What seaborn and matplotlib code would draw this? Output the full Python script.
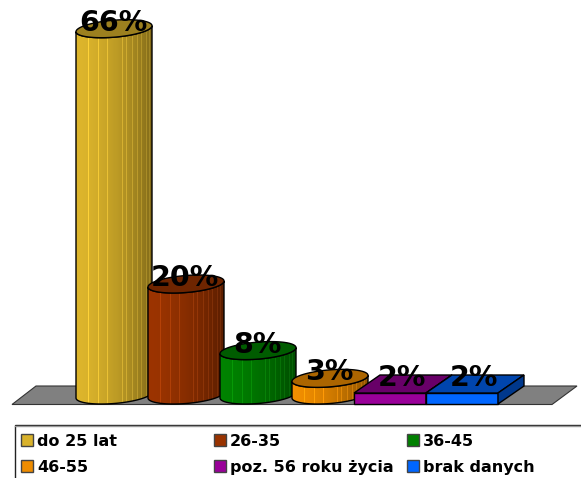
import numpy as np
import pandas as pd
import matplotlib
matplotlib.use("Agg")
import matplotlib.pyplot as plt
from matplotlib.patches import Polygon, Rectangle
from matplotlib.colors import to_rgb
import seaborn as sns

kategorie = ["do 25 lat", "26-35", "36-45", "46-55", "poz. 56 roku życia", "brak danych"]
wartosci = [66, 20, 8, 3, 2, 2]
kolory = ["#D9B22B", "#993300", "#008000", "#EE8C00", "#990099", "#0066FF"]
etykiety = ["66%", "20%", "8%", "3%", "2%", "2%"]

W, H = 581, 478
PX_X = 72.0     # pixels per category
PX_Y = 5.55     # pixels per percent
X0, Y0 = 114, 395


def px(x, y):
    return (x - X0) / PX_X, (Y0 - y) / PX_Y


sns.set_style("white")
plt.rcParams["font.family"] = ["DejaVu Sans"]
plt.rcParams["text.color"] = "black"
fig = plt.figure(figsize=(W / 100, H / 100), dpi=100)
ax = fig.add_axes([0, 0, 1, 1])

df = pd.DataFrame({"kat": kategorie, "val": wartosci})
sns.barplot(data=df, x="kat", y="val", hue="kat", palette=kolory, width=1.0,
            order=kategorie, hue_order=kategorie, legend=False, ax=ax,
            saturation=1, edgecolor="black", linewidth=1)

ax.set_xlim(px(0, 0)[0], px(W, 0)[0])
ax.set_ylim(px(0, H)[1], px(0, 0)[1])
ax.axis("off")

# floor
floor = [px(12, 404.5), px(36, 386), px(577, 386), px(552, 404.5)]
ax.add_patch(Polygon(floor, closed=True, fc="#808080", ec="#333333", lw=0.8, zorder=1))

A_PX = 38.0
B_PX = 8.5
S_PX = 3.0
t = np.linspace(0, 2 * np.pi, 121)


def ellipse(cx, cy_val, tt):
    xs = cx + (A_PX / PX_X) * np.cos(tt)
    ys = cy_val + (B_PX * np.sin(tt) + S_PX * np.cos(tt)) / PX_Y
    return np.column_stack([xs, ys])


def shade(col, f):
    return tuple(c * f for c in to_rgb(col))


handles = []
for i, cont in enumerate(ax.containers):
    bar = cont.patches[0]
    cx = bar.get_x() + bar.get_width() / 2
    v = bar.get_height()
    col = kolory[i]
    z = 3 + i
    handles.append(Rectangle((0, 0), 1, 1, fc=col, ec="#444444", lw=1))
    if i < 4:
        bar.set_visible(False)
        # side of the cylinder: front half of bottom + front half of top
        low = ellipse(cx, 0, np.linspace(np.pi, 2 * np.pi, 60))
        up = ellipse(cx, v, np.linspace(2 * np.pi, np.pi, 60))
        side = np.vstack([low, up])
        n = 76
        frac = np.linspace(0, 1, n)
        f = 1.02 - 0.42 * frac ** 1.6
        img = np.array([shade(col, x) for x in f])
        # thin light ribs
        for r in [0.16, 0.3, 0.42, 0.6, 0.66, 0.74, 0.8, 0.86, 0.92, 0.96]:
            j = int(r * (n - 1))
            img[j] = np.clip(img[j] * 1.14 + 0.03, 0, 1)
        img = np.clip(img, 0, 1)
        x_left, x_right = cx - A_PX / PX_X, cx + A_PX / PX_X
        ymin, ymax = side[:, 1].min(), side[:, 1].max()
        im = ax.imshow(img[np.newaxis, :, :], extent=[x_left, x_right, ymin, ymax],
                       aspect="auto", zorder=z, interpolation="nearest")
        im.set_clip_path(Polygon(side, closed=True, transform=ax.transData))
        ax.add_patch(Polygon(side, closed=True, fc="none", ec="black", lw=1, zorder=z))
        ax.add_patch(Polygon(ellipse(cx, v, t), closed=True, fc=shade(col, 0.72),
                             ec="black", lw=1, zorder=z + 0.1))
        label_y = v + 6 / PX_Y
        label_x = cx - 1 / PX_X
    else:
        # box: front face is the bar, pushed left; top and side are offset by depth
        dx = 26 / PX_X
        dy = 18 / PX_Y
        bar.set_x(cx - 0.5 - 12 / PX_X)
        x1 = bar.get_x()
        x2 = x1 + 1.0
        bot = px(0, 404)[1]
        top = bot + 11 / PX_Y
        bar.set_y(bot)
        bar.set_height(top - bot)
        bar.set_zorder(z)
        ax.add_patch(Polygon([(x1, top), (x1 + dx, top + dy), (x2 + dx, top + dy), (x2, top)],
                             closed=True, fc=shade(col, 0.68), ec="black", lw=1, zorder=z))
        ax.add_patch(Polygon([(x2, bot), (x2 + dx, bot + dy), (x2 + dx, top + dy), (x2, top)],
                             closed=True, fc=shade(col, 0.55), ec="black", lw=1, zorder=z))
        label_y = top + 9 / PX_Y + 6 / PX_Y
        label_x = cx
    ax.text(label_x, label_y, etykiety[i], ha="center", va="center", fontsize=20.5,
            fontweight="bold", color="black", zorder=20)

# legend frame runs off the right and bottom edges
lx, ly = px(15, 425)
rx, by = px(W + 10, H + 10)
ax.add_patch(Rectangle((lx, by), rx - lx, ly - by, fc="white", ec="#222222", lw=1, zorder=15))
ax.plot([lx, rx], [px(0, 426)[1]] * 2, color="#999999", lw=1, zorder=16)

kolumny = [(0, 3), (1, 4), (2, 5)]
for nr, ((a, b), x_px) in enumerate(zip(kolumny, [12, 205, 398])):
    leg = ax.legend([handles[a], handles[b]], [kategorie[a], kategorie[b]],
                    loc="upper left", bbox_to_anchor=px(x_px, 425),
                    bbox_transform=ax.transData, frameon=False, ncol=1,
                    prop={"weight": "bold", "size": 11.5}, handlelength=0.75,
                    handleheight=0.75, handletextpad=0.28, labelspacing=0.68,
                    borderpad=0.35, borderaxespad=0.2)
    leg.set_zorder(17)
    if nr < 2:
        ax.add_artist(leg)

fig.savefig("out.png", dpi=100)
